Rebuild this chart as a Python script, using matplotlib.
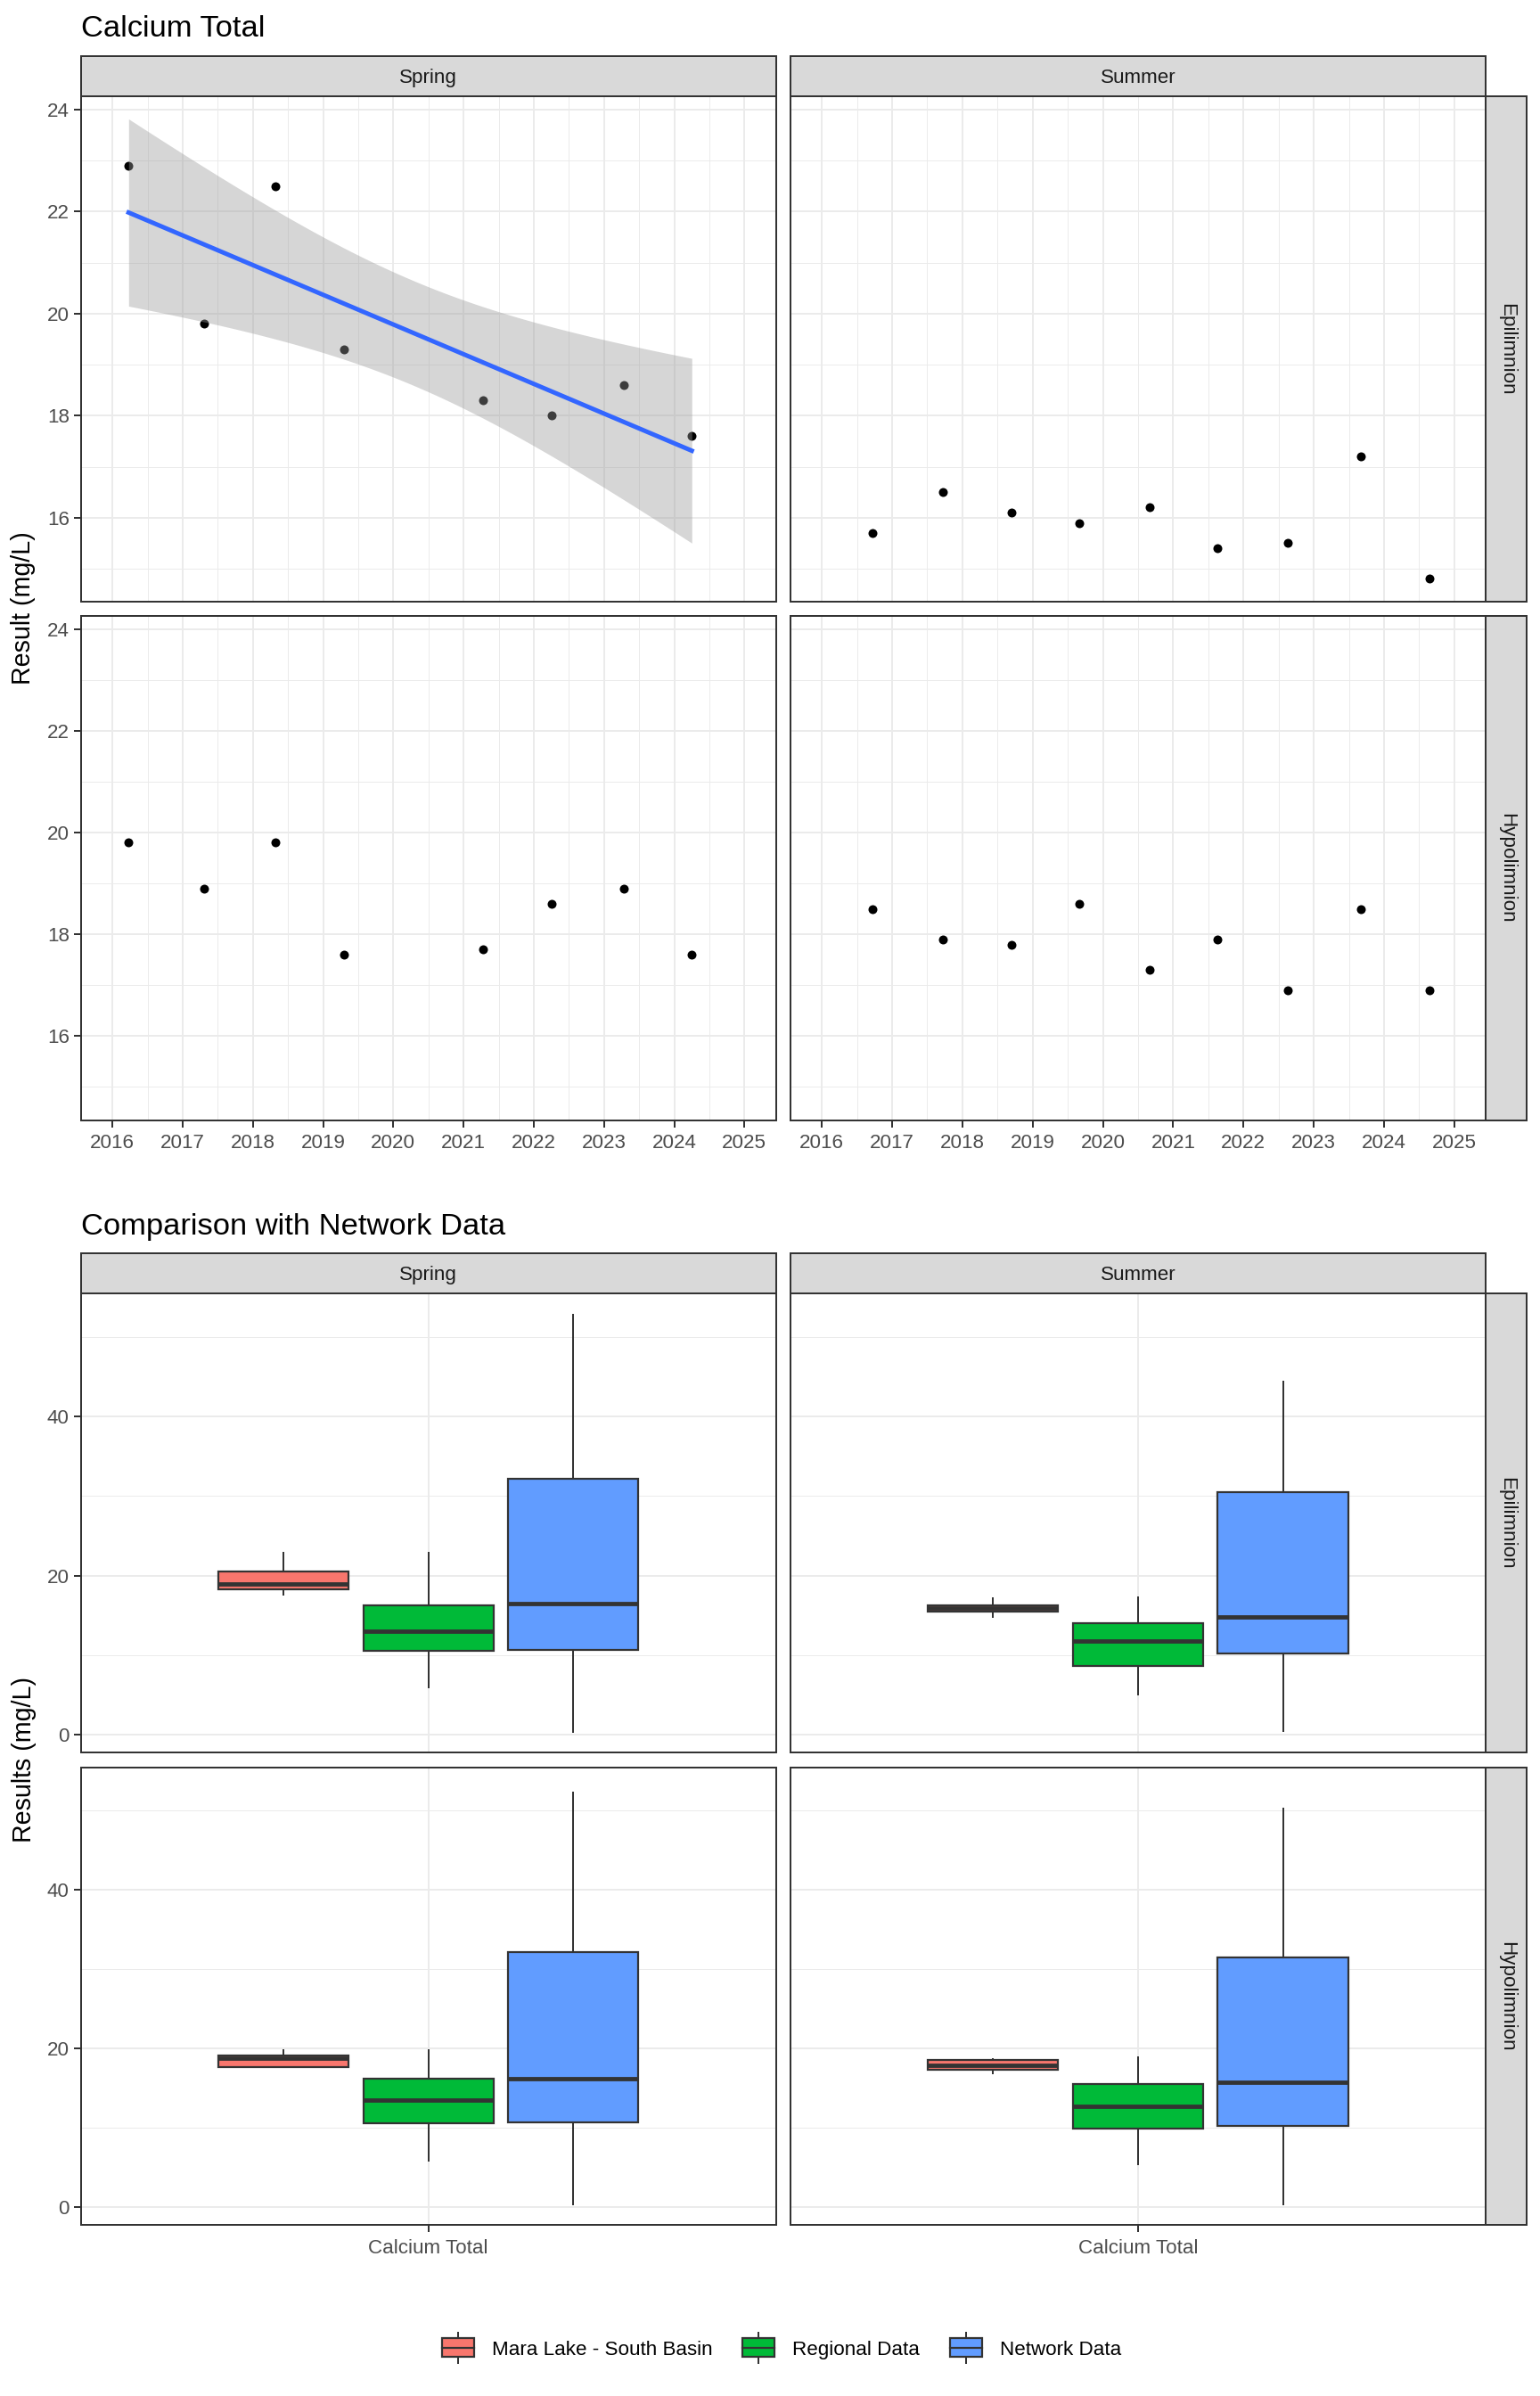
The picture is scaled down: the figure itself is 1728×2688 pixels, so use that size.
import numpy as np
import matplotlib
matplotlib.use("Agg")
import matplotlib.pyplot as plt
from matplotlib.patches import Patch, Rectangle
from matplotlib.lines import Line2D
from matplotlib.legend_handler import HandlerBase
from matplotlib.ticker import MultipleLocator, FixedLocator
from matplotlib import cbook

plt.rcParams['font.family'] = ['Liberation Sans', 'DejaVu Sans']

# ---------------- data ----------------
seasons = ["Spring", "Summer"]
layers = ["Epilimnion", "Hypolimnion"]

spring_dates = [2016.23, 2017.31, 2018.32, 2019.30, 2021.28, 2022.26, 2023.28, 2024.25]
spring_epi = [22.9, 19.8, 22.5, 19.3, 18.3, 18.0, 18.6, 17.6]
spring_hypo = [19.8, 18.9, 19.8, 17.6, 17.7, 18.6, 18.9, 17.6]

summer_dates = [2016.72, 2017.72, 2018.70, 2019.67, 2020.67, 2021.63, 2022.63, 2023.67, 2024.65]
summer_epi = [15.7, 16.5, 16.1, 15.9, 16.2, 15.4, 15.5, 17.2, 14.8]
summer_hypo = [18.5, 17.9, 17.8, 18.6, 17.3, 17.9, 16.9, 18.5, 16.9]

year_ticks = list(range(2016, 2026))
date_limits = [2016, 2025]
top_yticks = [16, 18, 20, 22, 24]

# boxplot five-number summaries: [whisker low, q1, median, q3, whisker high]
regional_spring_epi = [5.96, 10.5, 13.0, 16.3, 22.9]
network_spring_epi = [0.35, 10.6, 16.5, 32.15, 52.8]
regional_summer_epi = [5.06, 8.66, 11.8, 13.97, 17.23]
network_summer_epi = [0.45, 10.16, 14.82, 30.44, 44.36]
regional_spring_hypo = [5.86, 10.56, 13.51, 16.15, 19.8]
network_spring_hypo = [0.36, 10.66, 16.2, 32.14, 52.2]
regional_summer_hypo = [5.38, 9.92, 12.72, 15.46, 18.85]
network_summer_hypo = [0.36, 10.29, 15.73, 31.5, 50.25]

group_labels = ["Mara Lake - South Basin", "Regional Data", "Network Data"]
group_colors = ["#F8766D", "#00BA38", "#619CFF"]
param_label = "Calcium Total"
bot_yticks = [0, 20, 40]
bot_yminor = [10, 30, 50]

T_CRIT_DF6 = 2.446912  # qt(0.975, 6) for 95% CI of lm fit

point_data = {
    ("Epilimnion", "Spring"): (spring_dates, spring_epi),
    ("Hypolimnion", "Spring"): (spring_dates, spring_hypo),
    ("Epilimnion", "Summer"): (summer_dates, summer_epi),
    ("Hypolimnion", "Summer"): (summer_dates, summer_hypo),
}
box_data = {
    ("Epilimnion", "Spring"): (regional_spring_epi, network_spring_epi),
    ("Hypolimnion", "Spring"): (regional_spring_hypo, network_spring_hypo),
    ("Epilimnion", "Summer"): (regional_summer_epi, network_summer_epi),
    ("Hypolimnion", "Summer"): (regional_summer_hypo, network_summer_hypo),
}
trend_panels = [("Epilimnion", "Spring")]

# ---------------- style ----------------
W, H = 1728, 2688
DPI = 100
PX = 72.0 / DPI
GRID = "#EBEBEB"
BORDER = "#333333"
STRIP = "#D9D9D9"
LW_BORDER = 2.0 * PX
LW_MAJ = 2.0 * PX
LW_MIN = 1.0 * PX
FS_TICK = 16.1
FS_STRIP = 16.1
FS_TITLE = 24.8
FS_AXT = 20.6

fig = plt.figure(figsize=(W / DPI, H / DPI), dpi=DPI)


def rect(x0, y0, x1, y1):
    return [x0 / W, 1 - y1 / H, (x1 - x0) / W, (y1 - y0) / H]


def style_panel(ax):
    for s in ax.spines.values():
        s.set_color(BORDER)
        s.set_linewidth(LW_BORDER)
    ax.set_axisbelow(True)
    ax.grid(True, which="major", color=GRID, lw=LW_MAJ)
    ax.grid(True, which="minor", color=GRID, lw=LW_MIN)
    ax.tick_params(which="major", length=8 * PX, width=LW_BORDER, color=BORDER,
                   labelsize=FS_TICK, labelcolor="#4D4D4D", pad=3.5)
    ax.tick_params(axis="x", which="major", pad=5.5)
    ax.tick_params(which="minor", length=0)


def strip(r, text, rotation=0):
    sa = fig.add_axes(r)
    sa.set_facecolor(STRIP)
    sa.set_xticks([])
    sa.set_yticks([])
    for s in sa.spines.values():
        s.set_color(BORDER)
        s.set_linewidth(LW_BORDER)
    if rotation == 0:
        sa.text(0.5, 0.45, text, transform=sa.transAxes, ha="center", va="center",
                fontsize=FS_STRIP, color="#1A1A1A")
    else:
        sa.text(0.52, 0.5, text, transform=sa.transAxes, ha="center", va="center",
                rotation=rotation, fontsize=FS_STRIP, color="#1A1A1A")


cols = [(90.7, 870.8), (886.6, 1667.3)]
rstrip_x = (1667.3, 1712.7)

# ---------------- top chart ----------------
rows_top = [(107.6, 675.3), (690.5, 1256.5)]
strip_top = (62.5, 107.6)

fig.text(91 / W, 1 - 41 / H, "Calcium Total", fontsize=FS_TITLE, ha="left", va="baseline")

# y limits (fixed scales) from data + ribbon
fits = {}
all_vals = []
for key, (xd, yd) in point_data.items():
    all_vals += list(yd)
for key in trend_panels:
    x = np.array(point_data[key][0])
    y = np.array(point_data[key][1])
    n = len(x)
    b, a = np.polyfit(x, y, 1)
    xs = np.linspace(x.min(), x.max(), 80)
    yhat = a + b * xs
    resid = y - (a + b * x)
    s = np.sqrt(np.sum(resid ** 2) / (n - 2))
    se = s * np.sqrt(1.0 / n + (xs - x.mean()) ** 2 / np.sum((x - x.mean()) ** 2))
    lo = yhat - T_CRIT_DF6 * se
    hi = yhat + T_CRIT_DF6 * se
    fits[key] = (xs, yhat, lo, hi)
    all_vals += list(lo) + list(hi)
ymin, ymax = min(all_vals), max(all_vals)
ypad = 0.05 * (ymax - ymin)
top_ylim = (ymin - ypad, ymax + ypad)
xpad = 0.05 * (date_limits[1] - date_limits[0])
top_xlim = (date_limits[0] - xpad, date_limits[1] + xpad)

for i, layer in enumerate(layers):
    for j, season in enumerate(seasons):
        ax = fig.add_axes(rect(cols[j][0], rows_top[i][0], cols[j][1], rows_top[i][1]))
        style_panel(ax)
        xd, yd = point_data[(layer, season)]
        ax.scatter(xd, yd, s=(10 * PX) ** 2, c="black", linewidths=0, zorder=2)
        if (layer, season) in fits:
            xs, yhat, lo, hi = fits[(layer, season)]
            ax.fill_between(xs, lo, hi, color="#999999", alpha=0.4, lw=0, zorder=3)
            ax.plot(xs, yhat, color="#3366FF", lw=5.0 * PX, zorder=4)
        ax.set_xlim(top_xlim)
        ax.set_ylim(top_ylim)
        ax.set_xticks(year_ticks)
        ax.set_xticklabels([str(t) for t in year_ticks])
        ax.xaxis.set_minor_locator(MultipleLocator(0.5))
        ax.set_yticks(top_yticks)
        ax.set_yticklabels([str(t) for t in top_yticks])
        ax.yaxis.set_minor_locator(MultipleLocator(1))
        if i == 0:
            ax.tick_params(which="major", bottom=False, labelbottom=False)
        if j == 1:
            ax.tick_params(which="major", left=False, labelleft=False)
        if i == 0:
            strip(rect(cols[j][0], strip_top[0], cols[j][1], strip_top[1]), season)
    strip(rect(rstrip_x[0], rows_top[i][0], rstrip_x[1], rows_top[i][1]), layer, rotation=270)

fig.text(26 / W, 1 - 682 / H, "Result (mg/L)", rotation=90, ha="center", va="center",
         fontsize=FS_AXT)

# ---------------- bottom chart ----------------
rows_bot = [(1451.4, 1966.3), (1982.5, 2496.4)]
strip_bot = (1405.9, 1451.4)

fig.text(91 / W, 1 - 1384.5 / H, "Comparison with Network Data", fontsize=FS_TITLE,
         ha="left", va="baseline")

all_stats = {}
bvals = []
for key in box_data:
    mara = cbook.boxplot_stats(np.array(point_data[key][1]), whis=1.5)[0]
    mara["fliers"] = []
    stats = [mara]
    for arr in box_data[key]:
        stats.append(dict(whislo=arr[0], q1=arr[1], med=arr[2], q3=arr[3], whishi=arr[4],
                          fliers=[]))
    all_stats[key] = stats
    for st in stats:
        bvals += [st["whislo"], st["whishi"]]
bmin, bmax = min(bvals), max(bvals)
bpad = 0.05 * (bmax - bmin)
bot_ylim = (bmin - bpad, bmax + bpad)

positions = [0.75, 1.0, 1.25]
for i, layer in enumerate(layers):
    for j, season in enumerate(seasons):
        ax = fig.add_axes(rect(cols[j][0], rows_bot[i][0], cols[j][1], rows_bot[i][1]))
        style_panel(ax)
        bp = ax.bxp(all_stats[(layer, season)], positions=positions, widths=0.225,
                    patch_artist=True, showcaps=False, showfliers=False,
                    boxprops=dict(edgecolor=BORDER, linewidth=2.2 * PX),
                    medianprops=dict(color=BORDER, linewidth=4.8 * PX, solid_capstyle="butt"),
                    whiskerprops=dict(color=BORDER, linewidth=2.0 * PX))
        for patch, c in zip(bp["boxes"], group_colors):
            patch.set_facecolor(c)
        ax.set_xlim(0.4, 1.6)
        ax.set_ylim(bot_ylim)
        ax.set_xticks([1])
        ax.set_xticklabels([param_label])
        ax.set_yticks(bot_yticks)
        ax.set_yticklabels([str(t) for t in bot_yticks])
        ax.yaxis.set_minor_locator(FixedLocator(bot_yminor))
        if i == 0:
            ax.tick_params(which="major", bottom=False, labelbottom=False)
        if j == 1:
            ax.tick_params(which="major", left=False, labelleft=False)
        if i == 0:
            strip(rect(cols[j][0], strip_bot[0], cols[j][1], strip_bot[1]), season)
    strip(rect(rstrip_x[0], rows_bot[i][0], rstrip_x[1], rows_bot[i][1]), layer, rotation=270)

fig.text(27 / W, 1 - 1974 / H, "Results (mg/L)", rotation=90, ha="center", va="center",
         fontsize=FS_AXT)


# ---------------- legend ----------------
class BoxHandler(HandlerBase):
    def create_artists(self, legend, orig_handle, xdescent, ydescent, width, height,
                       fontsize, trans):
        fc = orig_handle.get_facecolor()
        x0, y0 = -xdescent, -ydescent
        ext = height * 0.3
        wt = Line2D([x0 + width / 2] * 2, [y0 + height, y0 + height + ext], color=BORDER,
                    lw=2.0 * PX, transform=trans)
        wb = Line2D([x0 + width / 2] * 2, [y0, y0 - ext], color=BORDER, lw=2.0 * PX,
                    transform=trans)
        r = Rectangle((x0, y0), width, height, facecolor=fc, edgecolor=BORDER,
                      lw=2.2 * PX, transform=trans)
        med = Line2D([x0, x0 + width], [y0 + height / 2] * 2, color=BORDER, lw=2.2 * PX,
                     transform=trans)
        return [wt, wb, r, med]


handles = [Patch(facecolor=c, label=l) for c, l in zip(group_colors, group_labels)]
fig.legend(handles=handles, loc="center", bbox_to_anchor=(877 / W, 1 - 2635 / H), ncol=3,
           frameon=False, fontsize=FS_TICK, handler_map={Patch: BoxHandler()},
           handlelength=36 / 22.4, handleheight=24 / 22.4, handletextpad=0.9,
           columnspacing=1.5, borderpad=0)

fig.savefig("out.png", dpi=DPI)
